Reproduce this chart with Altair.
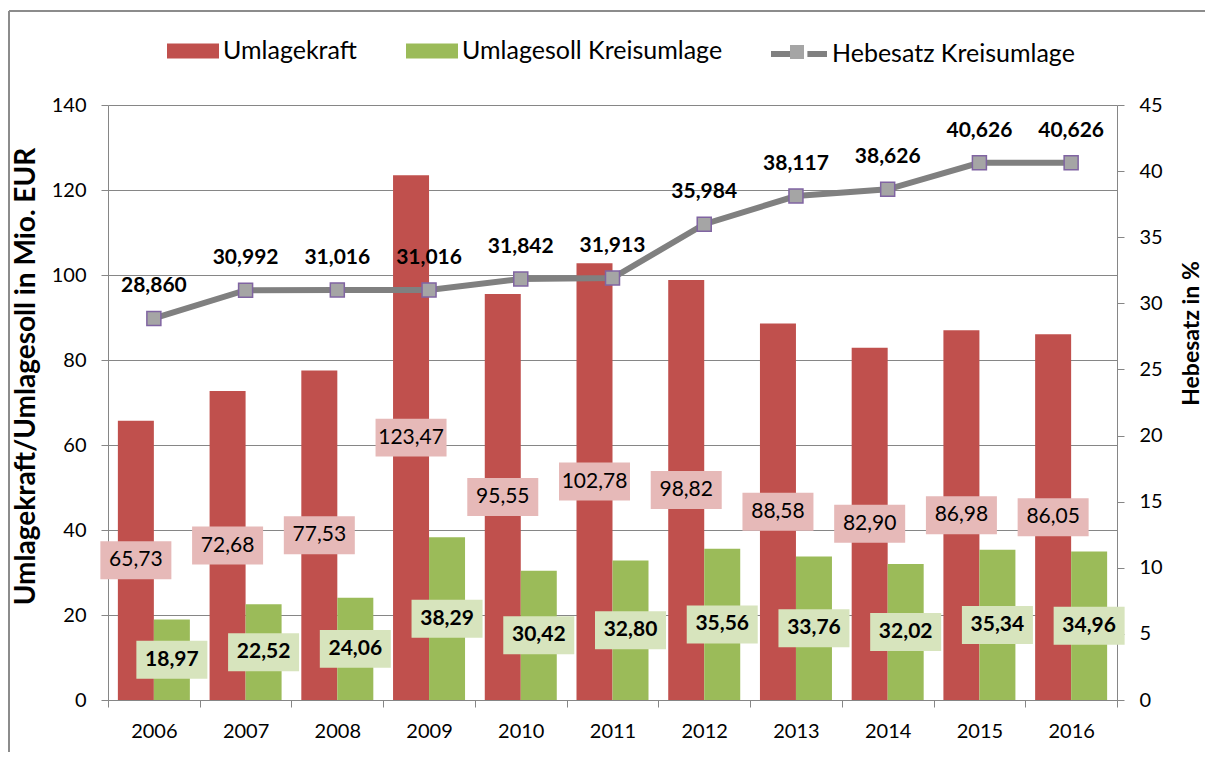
import altair as alt
import pandas as pd

# ---------------- data ----------------
years = ["2006", "2007", "2008", "2009", "2010", "2011", "2012", "2013", "2014", "2015", "2016"]
umlagekraft = [65.73, 72.68, 77.53, 123.47, 95.55, 102.78, 98.82, 88.58, 82.90, 86.98, 86.05]
umlagesoll = [18.97, 22.52, 24.06, 38.29, 30.42, 32.80, 35.56, 33.76, 32.02, 35.34, 34.96]
hebesatz = [28.860, 30.992, 31.016, 31.016, 31.842, 31.913, 35.984, 38.117, 38.626, 40.626, 40.626]

series_names = ["Umlagekraft", "Umlagesoll Kreisumlage"]
line_name = "Hebesatz Kreisumlage"
left_ticks = [0, 20, 40, 60, 80, 100, 120, 140]
right_ticks = [0, 5, 10, 15, 20, 25, 30, 35, 40, 45]

# ---------------- styles ----------------
FONT = "Lato"
GRAY = "#868686"
bar_colors = ["#C0504D", "#9BBB59"]
label_bg = ["#E6B9B8", "#D7E4BD"]
LINE_COLOR = "#808080"
MARK_FILL = "#A5A5A5"
MARK_STROKE = "#8064A2"
BORDER = "#8C8C8C"

PLOT_W, PLOT_H = 1009, 595
PAD = {"left": 100, "top": 97, "right": 88, "bottom": 52}


def de(v, d):
    return f"{v:.{d}f}".replace(".", ",")


rows = []
for i, yr in enumerate(years):
    for s, vals, bg in zip(series_names, [umlagekraft, umlagesoll], label_bg):
        v = vals[i]
        rows.append({"year": yr, "series": s, "value": v, "half": v / 2,
                     "label": de(v, 2), "bg": bg})
bars_df = pd.DataFrame(rows)
line_df = pd.DataFrame({"year": years, "rate": hebesatz,
                        "label": [de(v, 3) for v in hebesatz],
                        "s_line": [line_name] * len(years),
                        "s_mark": [line_name] * len(years)})

x_enc = alt.X("year:N", title=None,
              scale=alt.Scale(paddingInner=0, paddingOuter=0),
              axis=alt.Axis(tickBand="extent", labelAngle=0, labelPadding=14,
                            tickSize=7, grid=False))
xo_enc = alt.XOffset("series:N",
                     scale=alt.Scale(domain=series_names, paddingOuter=0.274, paddingInner=0))

left_scale = alt.Scale(domain=[0, 140], nice=False)
left_axis = alt.Axis(values=left_ticks, title="Umlagekraft/Umlagesoll in Mio. EUR",
                     titleFontSize=28, titleFontWeight="bold", titleAngle=270,
                     titleX=-74, titleY=271, titleAlign="center", titleBaseline="alphabetic",
                     grid=True, tickSize=7, labelPadding=15)

right_scale = alt.Scale(domain=[0, 45], nice=False)
right_axis = alt.Axis(values=right_ticks, orient="right", title="Hebesatz in %",
                      titleFontSize=23, titleFontWeight="bold", titleAngle=270,
                      titleX=81, titleY=228, titleAlign="center", titleBaseline="alphabetic",
                      grid=False, tickSize=7, labelPadding=15)

BOX = "M-1,-0.535H1V0.535H-1Z"
MARKER = "M-0.25,-0.25H0.25V0.25H-0.25Z"
LEG_FONT = 25

bars = alt.Chart(bars_df).mark_bar().encode(
    x=x_enc, xOffset=xo_enc,
    y=alt.Y("value:Q", scale=left_scale, axis=left_axis),
    color=alt.Color("series:N",
                    scale=alt.Scale(domain=series_names, range=bar_colors),
                    legend=alt.Legend(title=None, orient="none", legendX=59, legendY=-80,
                                      direction="horizontal", padding=0,
                                      symbolType="M-1,-0.288H1V0.288H-1Z", symbolSize=2704,
                                      symbolStrokeWidth=0, labelFontSize=LEG_FONT,
                                      labelOffset=4, columnPadding=49, labelLimit=500)),
)

boxes = alt.Chart(bars_df).mark_point(shape=BOX, size=5041, filled=True, opacity=1,
                                      strokeWidth=0).encode(
    x=x_enc, xOffset=xo_enc,
    y=alt.Y("half:Q", scale=left_scale, axis=left_axis),
    fill=alt.Fill("bg:N", scale=None),
)

text_red = alt.Chart(bars_df).transform_filter(
    alt.datum.series == series_names[0]
).mark_text(font=FONT, fontSize=21, color="black", baseline="middle").encode(
    x=x_enc, xOffset=xo_enc,
    y=alt.Y("half:Q", scale=left_scale, axis=left_axis),
    text="label:N",
)

text_green = alt.Chart(bars_df).transform_filter(
    alt.datum.series == series_names[1]
).mark_text(font=FONT, fontSize=21, fontWeight="bold", color="black",
            baseline="middle").encode(
    x=x_enc, xOffset=xo_enc,
    y=alt.Y("half:Q", scale=left_scale, axis=left_axis),
    text="label:N",
)

line = alt.Chart(line_df).mark_line(strokeWidth=6).encode(
    x=x_enc,
    y=alt.Y("rate:Q", scale=right_scale, axis=right_axis),
    stroke=alt.Stroke("s_line:N", scale=alt.Scale(range=[LINE_COLOR]),
                      legend=alt.Legend(title=None, orient="none", legendX=660, legendY=-82,
                                        padding=0, symbolType="M-1,0H-0.3M0.3,0H1",
                                        symbolSize=3136, symbolStrokeWidth=6,
                                        labelFontSize=LEG_FONT, labelOffset=2,
                                        labelLimit=500)),
)

points = alt.Chart(line_df).mark_point(filled=True, fill=MARK_FILL, stroke=MARK_STROKE,
                                       strokeWidth=1.5, size=3136, opacity=1).encode(
    x=x_enc,
    y=alt.Y("rate:Q", scale=right_scale, axis=right_axis),
    shape=alt.Shape("s_mark:N", scale=alt.Scale(range=[MARKER]),
                    legend=alt.Legend(title=None, orient="none", legendX=660, legendY=-82,
                                      padding=0, symbolSize=3136,
                                      symbolFillColor=MARK_FILL, symbolStrokeColor=MARK_STROKE,
                                      symbolStrokeWidth=1.5, symbolOpacity=1,
                                      labelExpr="''", labelFontSize=LEG_FONT, labelOffset=2)),
)

line_labels = alt.Chart(line_df).mark_text(font=FONT, fontSize=21, fontWeight="bold",
                                           color="black", dy=-32,
                                           baseline="middle").encode(
    x=x_enc,
    y=alt.Y("rate:Q", scale=right_scale, axis=right_axis),
    text="label:N",
)

# outer frame (top and left edges only, kept inside the drawing)
frame_df = pd.DataFrame({"a": [0]})
border_top = alt.Chart(frame_df).mark_rule(color=BORDER, strokeWidth=2).encode(
    x=alt.value(-99), x2=alt.value(PLOT_W + PAD["right"]), y=alt.value(-94))
border_left = alt.Chart(frame_df).mark_rule(color=BORDER, strokeWidth=2).encode(
    x=alt.value(-99), y=alt.value(-94), y2=alt.value(PLOT_H + PAD["bottom"]))

left = alt.layer(bars, boxes, text_red, text_green)
right = alt.layer(line, points, line_labels)

chart = alt.layer(left, right, border_top, border_left).resolve_scale(
    y="independent"
).properties(
    width=PLOT_W, height=PLOT_H,
    autosize=alt.AutoSizeParams(type="none"),
    padding=PAD,
).configure_view(stroke="transparent").configure_axis(
    labelFont=FONT, titleFont=FONT, labelFontSize=20, labelColor="black",
    titleColor="black", domainColor=GRAY, tickColor=GRAY, gridColor=GRAY,
).configure_legend(labelFont=FONT, labelColor="black")

chart.save("out.html", embed_options={"renderer": "svg", "actions": False})
